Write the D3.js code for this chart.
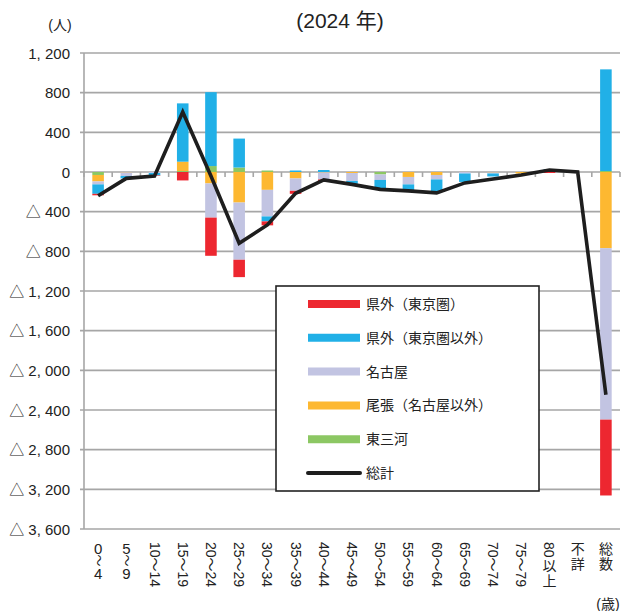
<!DOCTYPE html>
<html>
<head>
<meta charset="utf-8">
<script src="https://d3js.org/d3.v7.min.js"></script>
<title>年齢別 転入超過数 (2024 年)</title>
<style>
body { margin: 0; background: #fff; }
svg { display: block; font-family: "Liberation Sans", "Noto Sans CJK JP", sans-serif; }
text { fill: #222; }
</style>
</head>
<body>
<svg id="chart"></svg>
<script>
// age groups (x axis)
var categories = ['0～4', '5～9', '10～14', '15～19', '20～24', '25～29', '30～34', '35～39', '40～44',
  '45～49', '50～54', '55～59', '60～64', '65～69', '70～74', '75～79', '80以上', '不詳', '総数'];

// series values (persons)
var higashiMikawa = [-30, 0, 0, 10, 60, 45, 15, 0, 0, 0, -25, 0, 0, 0, 0, 0, 0, 0, 10];
var owari = [-65, -5, 0, 94, -115, -308, -180, -65, -5, -10, 0, -50, -30, 0, -5, -15, 0, 0, -768];
var nagoya = [-30, -35, -10, 0, -345, -577, -268, -125, -70, -80, -55, -75, -45, -15, -10, 0, 0, 0, -1729];
var outsideOther = [-95, -25, -25, 588, 745, 292, -50, 15, 20, -30, -85, -60, -125, -85, -30, 0, 30, 0, 1025];
var tokyoArea = [-15, 0, -5, -85, -385, -175, -40, -30, -15, 0, 0, 0, 0, 0, 0, 0, -10, 0, -765];
var total = [-240, -64, -40, 605, -40, -718, -534, -215, -80, -125, -175, -190, -210, -110, -70, -30, 20, 0, -2246];

var yTicks = [1200, 800, 400, 0, -400, -800, -1200, -1600, -2000, -2400, -2800, -3200, -3600];

var seriesNames = ['県外（東京圏）', '県外（東京圏以外）', '名古屋', '尾張（名古屋以外）', '東三河'];
var seriesValues = [tokyoArea, outsideOther, nagoya, owari, higashiMikawa];
var seriesColors = ['#ed2730', '#21b0e7', '#c2c4e2', '#fdb831', '#8cc763'];

var width = 621, height = 611;
var plotLeft = 84, plotRight = 620, plotTop = 53, plotBottom = 529;

var svg = d3.select('#chart').attr('width', width).attr('height', height);

var x = d3.scaleBand().domain(categories).range([plotLeft, plotRight]);
var y = d3.scaleLinear().domain([-3600, 1200]).range([plotBottom, plotTop]);
var barW = x.bandwidth() * 0.41;

// rows for the stack, one per age group
var rows = categories.map(function (c, i) {
  var r = { cat: c };
  seriesNames.forEach(function (s, j) { r[s] = seriesValues[j][i]; });
  return r;
});

// Excel draws the last legend entry nearest to zero
var stackKeys = seriesNames.slice().reverse();
var stacked = d3.stack().keys(stackKeys).offset(d3.stackOffsetDiverging)(rows);

function fmt(v) {
  var s = d3.format(',')(Math.abs(v)).replace(',', ', ');
  return v < 0 ? '△ ' + s : s;
}

// grid + y axis
svg.append('g').selectAll('line').data(yTicks).enter().append('line')
  .attr('x1', plotLeft - 4).attr('x2', plotRight)
  .attr('y1', function (d) { return y(d); }).attr('y2', function (d) { return y(d); })
  .attr('stroke', '#a6a6a6').attr('stroke-width', 1.6);

svg.append('line').attr('x1', plotLeft).attr('x2', plotLeft).attr('y1', plotTop).attr('y2', plotBottom)
  .attr('stroke', '#a6a6a6').attr('stroke-width', 1.6);

svg.append('g').selectAll('text').data(yTicks).enter().append('text')
  .attr('x', 70).attr('y', function (d) { return y(d); })
  .attr('text-anchor', 'end').attr('dominant-baseline', 'central')
  .style('font-size', '15px')
  .text(fmt);

// stacked bars
svg.append('g').selectAll('g').data(stacked).enter().append('g')
  .attr('fill', function (d) { return seriesColors[seriesNames.indexOf(d.key)]; })
  .selectAll('rect').data(function (d) { return d; }).enter().append('rect')
  .attr('x', function (d) { return x(d.data.cat) + (x.bandwidth() - barW) / 2; })
  .attr('width', barW)
  .attr('y', function (d) { return y(Math.max(d[0], d[1])); })
  .attr('height', function (d) { return Math.abs(y(d[0]) - y(d[1])); });

// little ticks under the zero line
svg.append('g').selectAll('line').data(categories.concat(['end'])).enter().append('line')
  .attr('x1', function (d, i) { return plotLeft + i * x.bandwidth(); })
  .attr('x2', function (d, i) { return plotLeft + i * x.bandwidth(); })
  .attr('y1', y(0)).attr('y2', y(0) + 5)
  .attr('stroke', '#a6a6a6').attr('stroke-width', 1.6);

// total line
var line = d3.line()
  .x(function (d, i) { return x(categories[i]) + x.bandwidth() / 2; })
  .y(function (d) { return y(d); });

svg.append('path').datum(total)
  .attr('d', line)
  .attr('fill', 'none').attr('stroke', '#1e1e1e').attr('stroke-width', 3.6);

// x labels are written vertically: digits turned sideways, kanji upright
function drawTickLabel(sel, label) {
  var tokens = label.match(/[0-9～]+|./g);
  var yy = 542;
  tokens.forEach(function (t) {
    if (/^\d～\d$/.test(t)) {
      t.split('').forEach(function (c) {
        var txt = sel.append('text').attr('text-anchor', 'middle').attr('dominant-baseline', 'central');
        if (c === '～') {
          txt.attr('transform', 'translate(0,' + (yy + 6) + ') rotate(90)').text('～').style('font-size', '12px');
        } else {
          txt.attr('y', yy + 6).text(c).style('font-size', '15px');
        }
        yy += 12.5;
      });
    } else if (/\d/.test(t)) {
      var txt = sel.append('text').attr('dominant-baseline', 'central')
        .attr('transform', 'translate(0,' + yy + ') rotate(90)').text(t);
      yy += txt.node().getComputedTextLength() + 1;
    } else {
      sel.append('text').attr('text-anchor', 'middle').attr('dominant-baseline', 'central')
        .attr('y', yy + 7).text(t);
      yy += 15;
    }
  });
}

svg.append('g').selectAll('g').data(categories).enter().append('g')
  .attr('transform', function (d) { return 'translate(' + (x(d) + x.bandwidth() / 2) + ',0)'; })
  .style('font-size', '14px')
  .each(function (d) { drawTickLabel(d3.select(this), d); });

// titles
svg.append('text').attr('x', 340).attr('y', 28).attr('text-anchor', 'middle')
  .style('font-size', '21px').text('(2024 年)');
svg.append('text').attr('x', 60).attr('y', 25).attr('text-anchor', 'middle').attr('dominant-baseline', 'central')
  .style('font-size', '14px').text('(人)');
svg.append('text').attr('x', 608).attr('y', 604).attr('text-anchor', 'middle').attr('dominant-baseline', 'central')
  .style('font-size', '14px').text('(歳)');

// legend
var legend = svg.append('g');
legend.append('rect').attr('x', 276).attr('y', 286).attr('width', 263).attr('height', 205)
  .attr('fill', '#fff').attr('stroke', '#222').attr('stroke-width', 1.6);

var legendItems = seriesNames.concat(['総計']);
var item = legend.selectAll('g').data(legendItems).enter().append('g')
  .attr('transform', function (d, i) { return 'translate(0,' + (304 + i * 33.8) + ')'; });

item.append('line')
  .attr('x1', 308).attr('x2', 360).attr('y1', 0).attr('y2', 0)
  .attr('stroke', function (d, i) { return i < 5 ? seriesColors[i] : '#1e1e1e'; })
  .attr('stroke-width', function (d, i) { return i < 5 ? 8 : 4; })
  .attr('stroke-linecap', function (d, i) { return i < 5 ? 'butt' : 'round'; });

item.append('text').attr('x', 366).attr('y', 0).attr('dominant-baseline', 'central')
  .style('font-size', '14px')
  .text(function (d) { return d; });
</script>
</body>
</html>
